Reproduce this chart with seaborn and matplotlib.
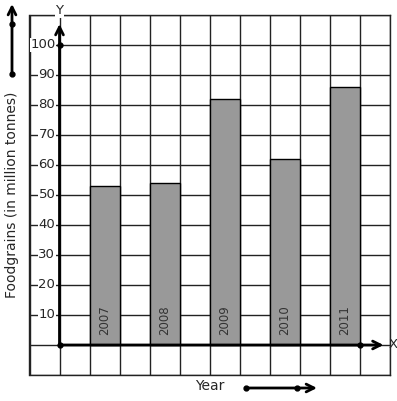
import matplotlib

matplotlib.use("Agg")
import matplotlib.pyplot as plt
import numpy as np
import pandas as pd
import seaborn as sns

# --- data ------------------------------------------------------------------ #
years = ["2007", "2008", "2009", "2010", "2011"]
foodgrains = [53, 54, 82, 62, 86]
y_ticks = [10, 20, 30, 40, 50, 60, 70, 80, 90, 100]

df = pd.DataFrame({"year": years, "value": foodgrains})

sns.set_style("white")
plt.rcParams["font.family"] = ["DejaVu Sans"]

W, H = 397, 401
fig = plt.figure(figsize=(W / 100, H / 100), dpi=100)
# axes box = the squared grid (12 x 12 cells of 30 px)
ax = fig.add_axes([29.5 / W, (H - 375) / H, 360 / W, 360 / H])

sns.barplot(data=df, x="year", y="value", width=0.5, color="#999999",
            edgecolor="black", linewidth=1, saturation=1, ax=ax, zorder=2)

x0 = -0.75  # position of the Y axis on the categorical scale
ax.set_xlim(-1.25, 4.75)
ax.set_ylim(-10, 110)
ax.set_xticks(np.arange(-1.25, 4.76, 0.5))
ax.set_yticks(np.arange(-10, 111, 10))
ax.set_xticklabels([])
ax.set_yticklabels([])
ax.tick_params(length=0)
ax.grid(True, color="#222222", linewidth=1)
ax.set_axisbelow(True)
ax.set_xlabel("")
ax.set_ylabel("")
for s in ax.spines.values():
    s.set_color("#222222")
    s.set_linewidth(1)

# y tick values written on the grid, left of the Y axis
for v in y_ticks:
    ax.annotate(str(v), (x0, v), xytext=(-3, 0), textcoords="offset points",
                ha="right", va="center", fontsize=9.5,
                bbox=dict(facecolor="white", edgecolor="none", pad=0.3))

# year labels inside the bars
for i, yr in enumerate(years):
    ax.annotate(yr, (i, 0), xytext=(0, 7), textcoords="offset points",
                ha="center", va="bottom", rotation=90, fontsize=8.5,
                color="#333333")

# axes with arrows
ax.annotate("", xy=(x0, 107), xytext=(x0, 0), annotation_clip=False,
            arrowprops=dict(arrowstyle="->", lw=2, color="black",
                            mutation_scale=14, shrinkA=0, shrinkB=0))
ax.annotate("", xy=(4.65, 0), xytext=(x0, 0), annotation_clip=False,
            arrowprops=dict(arrowstyle="->", lw=2, color="black",
                            mutation_scale=14, shrinkA=0, shrinkB=0))
ax.plot([x0, x0, 4.25], [0, 100, 0], "o", color="black", ms=3.5,
        clip_on=False, zorder=5)
ax.text(4.73, 0, "X", ha="left", va="center", fontsize=9.5)
ax.text(x0, 111.5, "Y", ha="center", va="center", fontsize=9.5,
        bbox=dict(facecolor="white", edgecolor="none", pad=0.5))

# overlay in pixel coords for the labels / direction arrows outside the grid
ov = fig.add_axes([0, 0, 1, 1], zorder=10)
ov.set_xlim(0, W)
ov.set_ylim(H, 0)
ov.axis("off")
ov.patch.set_alpha(0)

ov.text(12, 195, "Foodgrains (in million tonnes)", rotation=90,
        ha="center", va="center", fontsize=10)
ov.text(210, 386, "Year", ha="center", va="center", fontsize=10)

ov.annotate("", xy=(12, 4), xytext=(12, 75),
            arrowprops=dict(arrowstyle="->", lw=2, color="black",
                            mutation_scale=14, shrinkA=0, shrinkB=0))
ov.plot([12, 12], [24, 74], "o", color="black", ms=3.5)
ov.annotate("", xy=(317, 388), xytext=(246, 388),
            arrowprops=dict(arrowstyle="->", lw=2, color="black",
                            mutation_scale=14, shrinkA=0, shrinkB=0))
ov.plot([246, 297], [388, 388], "o", color="black", ms=3.5)

fig.savefig("out.png", dpi=100, facecolor="white")
